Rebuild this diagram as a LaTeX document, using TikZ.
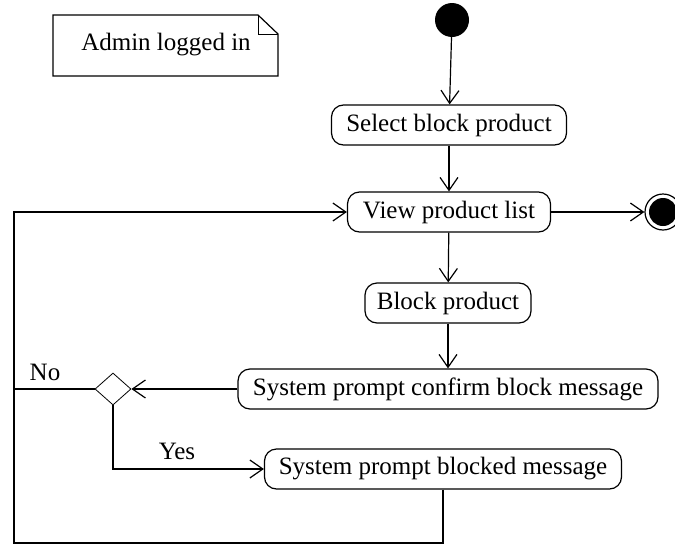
\documentclass[tikz,border=0pt]{standalone}
\usepackage{fontspec}
\setmainfont{Liberation Serif}
\usetikzlibrary{arrows.meta,shapes.geometric,shapes.misc}
\begin{document}
\begin{tikzpicture}[x=1pt,y=-1pt,
  every node/.style={font=\fontsize{25}{28}\selectfont},
  act/.style={draw,line width=1.2pt,rounded corners=12pt,inner sep=0pt,minimum height=40pt},
  flow/.style={line width=1.2pt,-{Straight Barb[length=13pt,width=18pt,line width=1.2pt]}},
  line/.style={line width=1.2pt},
  lbl/.style={inner sep=0pt}]
\useasboundingbox (0,0) rectangle (675,544);
% note
\draw[line width=1.2pt] (53,15) -- (258,15) -- (278,34) -- (278,76) -- (53,76) -- cycle;
\draw[line width=1pt] (258,15) -- (258,34) -- (278,34);
\node[lbl] (note) at (166,45) {Admin logged in};
% start
\node[circle,fill=black,minimum size=34pt,inner sep=0pt] (start) at (452,20) {};
% activities
\node[act,minimum width=235pt] (sel) at (449,125) {Select block product};
\node[act,minimum width=203pt] (view) at (449,212) {View product list};
\node[act,minimum width=166pt] (blk) at (448,303) {Block product};
\node[act,minimum width=420pt] (conf) at (448,389) {System prompt confirm block message};
\node[act,minimum width=357pt] (blkd) at (443,469) {System prompt blocked message};
% final
\node[circle,draw,line width=1.2pt,minimum size=36pt,inner sep=0pt] (fin) at (663,212) {};
\node[circle,fill=black,minimum size=28pt,inner sep=0pt] (finin) at (663,212) {};
% decision
\node[diamond,draw,line width=0.8pt,minimum width=36pt,minimum height=32pt,inner sep=0pt] (dec) at (113,389) {};
\coordinate (lx) at (14,389);
\coordinate (ly) at (113,469);
\coordinate (bb) at (443,543);
\coordinate (bl) at (14,543);
\coordinate (tl) at (14,212);
% flows
\draw[flow] (start) -- (sel);
\draw[flow] (sel) -- (view);
\draw[flow] (view) -- (fin);
\draw[flow] (view) -- (blk);
\draw[flow] (blk) -- (conf);
\draw[flow] (conf) -- (dec);
\draw[line] (dec.west) -- (lx);
\draw[flow] (dec.south) -- (ly) -- (blkd);
\draw[flow] (blkd.south) -- (bb) -- (bl) -- (tl) -- (view);
% labels
\node[lbl] (no) at (45,372) {No};
\node[lbl] (yes) at (177,451) {Yes};
\end{tikzpicture}
\end{document}
